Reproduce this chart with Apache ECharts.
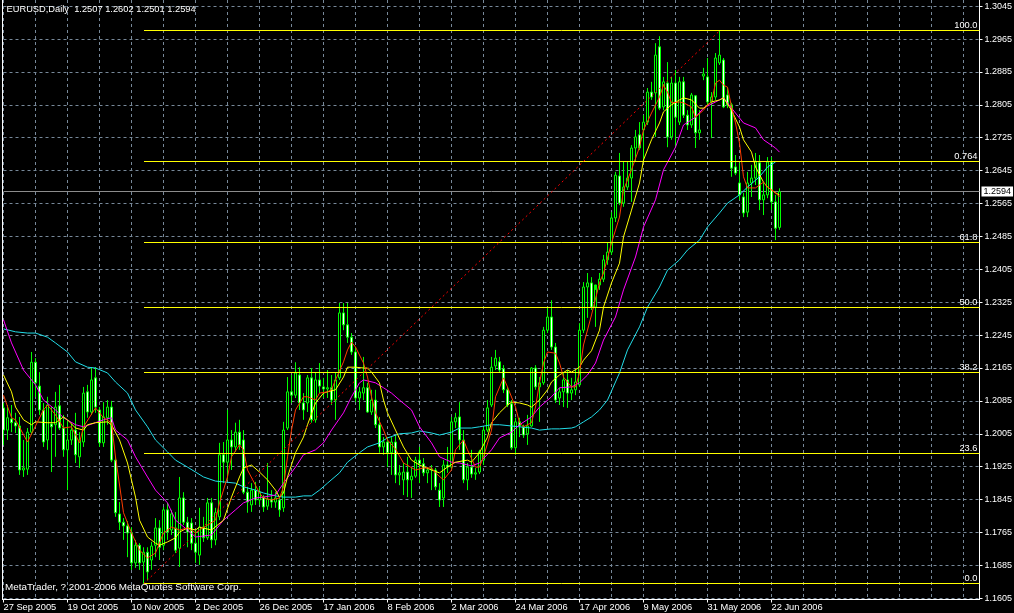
<!DOCTYPE html>
<html><head><meta charset="utf-8">
<script src="https://cdn.jsdelivr.net/npm/echarts/dist/echarts.min.js"></script>
<style>html,body{margin:0;padding:0;background:#000;overflow:hidden}#c{width:1014px;height:613px}</style>
</head><body><div id="c"></div>
<script>
const symbolName = 'EURUSD,Daily';
const dateLabels = ['27 Sep 2005','19 Oct 2005','10 Nov 2005','2 Dec 2005','26 Dec 2005','17 Jan 2006','8 Feb 2006','2 Mar 2006','24 Mar 2006','17 Apr 2006','9 May 2006','31 May 2006','22 Jun 2006'];
const yTicks = [1.1605,1.1685,1.1765,1.1845,1.1925,1.2005,1.2085,1.2165,1.2245,1.2325,1.2405,1.2485,1.2565,1.2645,1.2725,1.2805,1.2885,1.2965,1.3045];

const opens = [1.2068,1.2014,1.2041,1.2032,1.2024,1.1917,1.1919,1.2009,1.2179,1.2121,1.2063,1.1990,1.2029,1.2027,1.2073,1.2019,1.1966,1.1990,1.2014,1.1949,
1.1985,1.2107,1.2058,1.2141,1.2063,1.1983,1.2044,1.2070,1.1941,1.1810,1.1790,1.1781,1.1764,1.1691,1.1734,1.1693,1.1717,1.1698,1.1734,1.1776,
1.1734,1.1820,1.1771,1.1776,1.1727,1.1849,1.1790,1.1788,1.1739,1.1710,1.1778,1.1752,1.1837,1.1747,1.1803,1.1954,1.1936,1.1990,1.1973,1.2009,
1.1990,1.1863,1.1832,1.1868,1.1844,1.1851,1.1829,1.1846,1.1839,1.1844,1.1825,1.2019,1.2107,1.2099,1.2148,1.2080,1.2080,1.2141,1.2039,1.2136,
1.2119,1.2114,1.2117,1.2087,1.2141,1.2299,1.2270,1.2240,1.2204,1.2092,1.2104,1.2117,1.2058,1.2087,1.2027,1.1973,1.1985,1.1959,1.1985,1.1905,
1.1893,1.1912,1.1893,1.1902,1.1941,1.1932,1.1910,1.1917,1.1917,1.1868,1.1849,1.1929,1.1924,1.2034,1.2046,1.1990,1.1893,1.1924,1.1907,1.1912,
1.1941,1.2014,1.2075,1.2170,1.2180,1.2163,1.2112,1.2078,1.1971,1.2034,1.2022,1.2005,1.2024,1.2165,1.2119,1.2129,1.2257,1.2289,1.2216,1.2092,
1.2107,1.2136,1.2104,1.2112,1.2124,1.2257,1.2362,1.2372,1.2313,1.2367,1.2381,1.2428,1.2447,1.2530,1.2632,1.2566,1.2605,1.2627,1.2700,1.2732,
1.2744,1.2763,1.2836,1.2834,1.2946,1.2800,1.2858,1.2727,1.2858,1.2763,1.2861,1.2780,1.2756,1.2827,1.2737,1.2875,1.2873,1.2812,1.2824,1.2907,
1.2914,1.2829,1.2805,1.2654,1.2615,1.2581,1.2544,1.2615,1.2627,1.2664,1.2574,1.2586,1.2666,1.2569,1.2507];
const highs = [1.2080,1.2075,1.2075,1.2056,1.2046,1.1990,1.2019,1.2204,1.2189,1.2155,1.2080,1.2095,1.2070,1.2107,1.2124,1.2051,1.2039,1.2029,1.2056,1.2009,
1.2119,1.2124,1.2167,1.2167,1.2070,1.2082,1.2087,1.2085,1.1951,1.1839,1.1800,1.1793,1.1778,1.1747,1.1739,1.1729,1.1729,1.1742,1.1800,1.1795,
1.1827,1.1837,1.1820,1.1815,1.1900,1.1863,1.1803,1.1800,1.1771,1.1825,1.1803,1.1849,1.1849,1.1825,1.1983,1.1985,1.2063,1.2014,1.2032,1.2039,
1.2014,1.1876,1.1885,1.1888,1.1876,1.1856,1.1934,1.1868,1.1863,1.1851,1.2034,1.2143,1.2148,1.2179,1.2167,1.2104,1.2148,1.2165,1.2155,1.2177,
1.2141,1.2160,1.2148,1.2155,1.2323,1.2323,1.2323,1.2250,1.2216,1.2119,1.2192,1.2129,1.2112,1.2112,1.2046,1.1997,1.1997,1.1997,1.2002,1.1929,
1.1934,1.1949,1.1924,1.1949,1.1973,1.1946,1.1924,1.1929,1.1922,1.1885,1.1941,1.1973,1.2046,1.2056,1.2082,1.2014,1.1934,1.1966,1.1922,1.1966,
1.2022,1.2087,1.2192,1.2209,1.2192,1.2172,1.2119,1.2087,1.2044,1.2044,1.2027,1.2051,1.2167,1.2172,1.2143,1.2265,1.2313,1.2330,1.2226,1.2117,
1.2155,1.2160,1.2141,1.2160,1.2274,1.2374,1.2396,1.2386,1.2355,1.2396,1.2440,1.2469,1.2544,1.2642,1.2688,1.2666,1.2666,1.2707,1.2744,1.2763,
1.2780,1.2846,1.2861,1.2955,1.2972,1.2873,1.2909,1.2873,1.2890,1.2873,1.2873,1.2792,1.2834,1.2829,1.2792,1.2895,1.2919,1.2836,1.2931,1.2985,
1.2919,1.2848,1.2810,1.2683,1.2664,1.2591,1.2642,1.2659,1.2688,1.2683,1.2615,1.2678,1.2678,1.2586,1.2602];
const lows = [1.1978,1.1990,1.2009,1.2007,1.1905,1.1900,1.1905,1.2002,1.2095,1.2051,1.1973,1.1966,1.1912,1.1949,1.2014,1.1949,1.1868,1.1978,1.1934,1.1922,
1.1973,1.2044,1.2051,1.2056,1.1973,1.1973,1.2027,1.1936,1.1803,1.1771,1.1747,1.1705,1.1674,1.1679,1.1674,1.1640,1.1649,1.1674,1.1705,1.1698,
1.1722,1.1747,1.1759,1.1715,1.1681,1.1783,1.1729,1.1722,1.1691,1.1686,1.1742,1.1747,1.1727,1.1734,1.1795,1.1885,1.1893,1.1917,1.1961,1.1966,
1.1858,1.1813,1.1815,1.1832,1.1832,1.1815,1.1820,1.1825,1.1825,1.1803,1.1815,1.2014,1.2080,1.2092,1.2063,1.2039,1.2058,1.2032,1.2032,1.2104,
1.2092,1.2092,1.2075,1.2039,1.2136,1.2257,1.2226,1.2197,1.2082,1.2063,1.2087,1.2056,1.2051,1.2019,1.1959,1.1954,1.1924,1.1905,1.1885,1.1880,
1.1856,1.1851,1.1849,1.1898,1.1885,1.1902,1.1885,1.1868,1.1868,1.1827,1.1827,1.1910,1.1917,1.2019,1.1966,1.1885,1.1868,1.1898,1.1893,1.1907,
1.1929,1.2009,1.2070,1.2160,1.2153,1.2104,1.2070,1.1966,1.1954,1.1997,1.1995,1.1978,1.2022,1.2112,1.2034,1.2124,1.2250,1.2209,1.2080,1.2075,
1.2070,1.2068,1.2087,1.2099,1.2119,1.2250,1.2287,1.2306,1.2265,1.2355,1.2374,1.2416,1.2440,1.2520,1.2561,1.2557,1.2598,1.2569,1.2666,1.2695,
1.2666,1.2756,1.2817,1.2727,1.2792,1.2792,1.2702,1.2720,1.2700,1.2756,1.2773,1.2744,1.2749,1.2700,1.2720,1.2865,1.2805,1.2724,1.2817,1.2902,
1.2797,1.2797,1.2630,1.2634,1.2574,1.2532,1.2532,1.2581,1.2610,1.2549,1.2537,1.2578,1.2549,1.2476,1.2501];
const closes = [1.2014,1.2044,1.2032,1.2024,1.1917,1.1922,1.2009,1.2179,1.2129,1.2063,1.1985,1.2075,1.2022,1.2070,1.2019,1.1966,1.1990,1.2014,1.1954,1.1990,
1.2104,1.2058,1.2136,1.2070,1.1983,1.2046,1.2070,1.1941,1.1813,1.1790,1.1781,1.1764,1.1691,1.1734,1.1691,1.1717,1.1669,1.1732,1.1776,1.1729,
1.1820,1.1766,1.1810,1.1722,1.1849,1.1790,1.1766,1.1739,1.1717,1.1778,1.1752,1.1837,1.1747,1.1813,1.1954,1.1936,1.1990,1.1973,1.2009,1.1978,
1.1863,1.1839,1.1868,1.1844,1.1863,1.1827,1.1846,1.1839,1.1849,1.1820,1.2014,1.2107,1.2099,1.2153,1.2080,1.2063,1.2141,1.2039,1.2136,1.2121,
1.2114,1.2117,1.2087,1.2136,1.2299,1.2270,1.2240,1.2204,1.2092,1.2107,1.2117,1.2058,1.2087,1.2027,1.1973,1.1985,1.1959,1.1985,1.1905,1.1910,
1.1912,1.1893,1.1902,1.1941,1.1932,1.1910,1.1917,1.1919,1.1876,1.1844,1.1929,1.1924,1.2034,1.2044,1.1990,1.1893,1.1924,1.1907,1.1910,1.1961,
1.2014,1.2068,1.2167,1.2189,1.2160,1.2112,1.2075,1.1971,1.2034,1.2024,1.2002,1.2024,1.2165,1.2119,1.2129,1.2257,1.2289,1.2216,1.2087,1.2107,
1.2136,1.2104,1.2112,1.2131,1.2257,1.2362,1.2372,1.2313,1.2367,1.2381,1.2428,1.2447,1.2530,1.2634,1.2566,1.2605,1.2627,1.2700,1.2727,1.2700,
1.2763,1.2836,1.2824,1.2926,1.2797,1.2861,1.2727,1.2858,1.2775,1.2861,1.2780,1.2756,1.2829,1.2737,1.2744,1.2880,1.2812,1.2824,1.2919,1.2926,
1.2800,1.2805,1.2651,1.2639,1.2586,1.2542,1.2615,1.2627,1.2666,1.2574,1.2586,1.2666,1.2569,1.2505,1.2594];

const maRed = [[0,1.2099],[2,1.2044],[3,1.2039],[6,1.1985],[10,1.2063],[11,1.2075],[13,1.2051],[15,1.2019],[17,1.2022],[19,1.1983],[20,1.2022],[23,1.2068],[25,1.2044],[27,1.2032],[28,1.1949],[30,1.1813],[32,1.1764],[34,1.1722],[36,1.1703],[38,1.1715],[40,1.1764],[42,1.1778],[44,1.1771],[46,1.1776],[48,1.1764],[49,1.1771],[53,1.1795],[54,1.1837],[56,1.1900],[57,1.1949],[59,1.1978],[60,1.1966],[61,1.1917],[63,1.1880],[64,1.1861],[65,1.1849],[67,1.1844],[69,1.1849],[70,1.1876],[71,1.1949],[72,1.2014],[73,1.2063],[75,1.2095],[76,1.2095],[78,1.2087],[79,1.2104],[81,1.2107],[82,1.2112],[83,1.2136],[85,1.2180],[86,1.2209],[87,1.2228],[88,1.2216],[90,1.2177],[91,1.2143],[92,1.2095],[93,1.2056],[95,1.2014],[96,1.1990],[98,1.1968],[100,1.1934],[103,1.1917],[105,1.1922],[107,1.1922],[108,1.1910],[110,1.1893],[112,1.1917],[113,1.1966],[115,1.1990],[116,1.1966],[118,1.1924],[119,1.1924],[120,1.1949],[122,1.2014],[123,1.2095],[125,1.2141],[126,1.2119],[128,1.2070],[129,1.2032],[130,1.2022],[132,1.2032],[133,1.2070],[134,1.2129],[135,1.2177],[136,1.2204],[138,1.2201],[139,1.2177],[140,1.2143],[142,1.2119],[143,1.2119],[144,1.2153],[145,1.2221],[147,1.2294],[149,1.2372],[150,1.2396],[152,1.2469],[154,1.2532],[155,1.2598],[157,1.2647],[159,1.2702],[160,1.2744],[162,1.2785],[164,1.2824],[165,1.2853],[166,1.2836],[167,1.2810],[169,1.2812],[170,1.2810],[172,1.2800],[173,1.2775],[175,1.2792],[176,1.2805],[177,1.2812],[178,1.2858],[179,1.2865],[180,1.2853],[181,1.2848],[182,1.2800],[183,1.2761],[184,1.2712],[185,1.2630],[186,1.2603],[188,1.2603],[190,1.2617],[191,1.2605],[193,1.2591],[194,1.2581]];
const maYellow = [[0,1.2148],[2,1.2107],[3,1.2070],[5,1.2039],[7,1.2027],[8,1.2034],[11,1.2032],[13,1.2032],[15,1.2046],[16,1.2039],[18,1.2019],[20,1.2014],[21,1.2027],[23,1.2032],[26,1.2034],[27,1.2027],[29,1.1990],[31,1.1934],[33,1.1851],[34,1.1795],[36,1.1754],[38,1.1739],[39,1.1734],[41,1.1742],[43,1.1752],[44,1.1766],[46,1.1776],[48,1.1771],[49,1.1778],[52,1.1771],[55,1.1795],[57,1.1851],[59,1.1900],[60,1.1922],[62,1.1929],[64,1.1912],[66,1.1893],[68,1.1868],[69,1.1851],[70,1.1861],[71,1.1900],[73,1.1959],[75,1.1997],[76,1.2027],[78,1.2080],[80,1.2104],[81,1.2107],[83,1.2112],[85,1.2143],[86,1.2167],[88,1.2167],[90,1.2165],[91,1.2165],[92,1.2155],[94,1.2129],[95,1.2087],[96,1.2056],[98,1.2014],[100,1.1973],[102,1.1941],[104,1.1929],[107,1.1917],[109,1.1910],[111,1.1924],[113,1.1936],[116,1.1941],[117,1.1936],[119,1.1959],[121,1.1997],[122,1.2032],[124,1.2056],[126,1.2075],[127,1.2082],[129,1.2080],[131,1.2075],[132,1.2070],[134,1.2087],[136,1.2112],[137,1.2131],[139,1.2148],[141,1.2160],[142,1.2155],[144,1.2167],[145,1.2184],[147,1.2207],[149,1.2257],[150,1.2313],[152,1.2372],[154,1.2420],[155,1.2484],[157,1.2549],[159,1.2615],[160,1.2671],[162,1.2720],[164,1.2761],[165,1.2788],[167,1.2805],[169,1.2817],[170,1.2822],[172,1.2817],[174,1.2797],[175,1.2797],[177,1.2812],[179,1.2817],[180,1.2822],[182,1.2792],[184,1.2751],[185,1.2720],[187,1.2690],[188,1.2654],[190,1.2617],[191,1.2605],[192,1.2598],[193,1.2591],[194,1.2586]];
const maMagenta = [[0,1.2282],[2,1.2226],[5,1.2160],[8,1.2124],[10,1.2087],[13,1.2063],[15,1.2044],[18,1.2027],[20,1.2022],[23,1.2032],[25,1.2039],[27,1.2044],[28,1.2014],[31,1.1990],[33,1.1949],[36,1.1900],[38,1.1868],[41,1.1837],[43,1.1795],[46,1.1771],[48,1.1754],[52,1.1759],[55,1.1795],[58,1.1820],[60,1.1837],[63,1.1849],[65,1.1851],[68,1.1856],[70,1.1885],[73,1.1924],[75,1.1954],[78,1.1966],[80,1.1983],[82,1.2014],[85,1.2056],[87,1.2095],[89,1.2129],[90,1.2136],[93,1.2129],[95,1.2117],[97,1.2104],[99,1.2087],[102,1.2063],[104,1.2022],[107,1.1983],[109,1.1949],[112,1.1936],[114,1.1934],[117,1.1927],[119,1.1934],[122,1.1966],[124,1.1995],[127,1.2009],[129,1.2027],[132,1.2046],[134,1.2070],[137,1.2095],[139,1.2117],[142,1.2119],[144,1.2129],[146,1.2148],[148,1.2177],[150,1.2233],[153,1.2289],[155,1.2355],[158,1.2435],[160,1.2508],[163,1.2574],[165,1.2647],[168,1.2702],[170,1.2756],[173,1.2775],[175,1.2797],[178,1.2812],[180,1.2822],[183,1.2785],[185,1.2761],[188,1.2749],[190,1.2720],[193,1.2700],[194,1.2690]];
const maCyan = [[0,1.2260],[3,1.2253],[6,1.2250],[8,1.2250],[11,1.2240],[13,1.2226],[16,1.2204],[18,1.2180],[21,1.2167],[23,1.2165],[26,1.2153],[28,1.2131],[31,1.2104],[33,1.2063],[36,1.2022],[38,1.1990],[41,1.1961],[43,1.1941],[46,1.1924],[48,1.1912],[50,1.1900],[53,1.1890],[55,1.1888],[58,1.1885],[60,1.1876],[63,1.1868],[65,1.1861],[68,1.1854],[70,1.1851],[73,1.1851],[75,1.1854],[77,1.1854],[79,1.1868],[81,1.1885],[84,1.1910],[86,1.1936],[89,1.1959],[91,1.1973],[94,1.1983],[96,1.1995],[99,1.2005],[102,1.2007],[104,1.2012],[107,1.2007],[109,1.2002],[112,1.2009],[114,1.2019],[117,1.2019],[119,1.2022],[122,1.2027],[124,1.2027],[127,1.2024],[129,1.2022],[132,1.2019],[134,1.2014],[137,1.2017],[139,1.2017],[142,1.2019],[143,1.2022],[145,1.2034],[147,1.2046],[149,1.2063],[151,1.2087],[154,1.2153],[156,1.2209],[159,1.2265],[161,1.2313],[164,1.2362],[166,1.2403],[169,1.2428],[171,1.2452],[174,1.2476],[176,1.2508],[179,1.2542],[181,1.2566],[184,1.2586],[186,1.2605],[189,1.2630],[191,1.2654],[193,1.2666]];

const fibLevels = [{name:'0.0',value:1.1640},{name:'23.6',value:1.1957},{name:'38.2',value:1.2154},{name:'50.0',value:1.2313},{name:'61.8',value:1.2471},{name:'0.764',value:1.2668},{name:'100.0',value:1.2985}];
const fibStartBar = 35;
const trendLine = [[35,1.1640],[179,1.2985]];
const lastPrice = 1.2594;
const totalSlots = 245;

const FONT = 'Liberation Sans';
const FS = 9.3;
const cats = [];
for (let i = 0; i < totalSlots; i++) cats.push('b' + i);
const candleData = opens.map((o, i) => [o, closes[i], lows[i], highs[i]]);
const n = opens.length - 1;
const titleText = symbolName + '  ' + [opens[n], highs[n], lows[n], closes[n]].map(v => v.toFixed(4)).join(' ');

const chart = echarts.init(document.getElementById('c'), null, {renderer: 'canvas'});
const lineS = (data, color) => ({type:'line', data, showSymbol:false, symbol:'none', silent:true, z:4,
  lineStyle:{color, width:1}, itemStyle:{color}});
const labelInterval = (i) => i % 16 === 0 && (i / 16) < dateLabels.length;
const snap = (y) => Math.floor(y) + 0.5;

chart.setOption({
  backgroundColor: '#000',
  animation: false,
  grid: {left: 3.5, top: 0, width: 976, height: 599.5, outerBoundsMode: 'none', containLabel: false},
  xAxis: {
    type: 'category', data: cats, boundaryGap: false,
    axisLine: {show: true, lineStyle: {color: '#fff', width: 1}},
    axisTick: {show: true, interval: labelInterval, length: 3, lineStyle: {color: '#fff'}},
    axisLabel: {interval: labelInterval, formatter: (v, i) => dateLabels[i / 16] || '', color: '#fff',
      fontFamily: FONT, fontSize: FS, align: 'left', margin: 3, hideOverlap: false},
    splitLine: {show: true, interval: (i) => i % 8 === 0, lineStyle: {color: '#778899', type: [3, 3], width: 1}}
  },
  yAxis: {
    type: 'value', position: 'right', min: 1.1602, max: 1.3060,
    axisLine: {show: true, lineStyle: {color: '#fff', width: 1}},
    axisTick: {show: true, length: 3, customValues: yTicks, lineStyle: {color: '#fff'}},
    axisLabel: {customValues: yTicks, formatter: v => v.toFixed(4), color: '#fff', fontFamily: FONT, fontSize: 9, margin: 5},
    splitLine: {show: true, lineStyle: {color: '#778899', type: [3, 3], width: 1}}
  },
  series: [
    {type:'custom', silent:true, z:1, clip:false, data:[[0, lastPrice]],
      renderItem: (params, api) => {
        const cs = params.coordSys;
        const y = snap(api.coord([0, api.value(1)])[1]);
        return {type:'group', children:[
          {type:'line', shape:{x1:cs.x, y1:y, x2:cs.x + cs.width, y2:y}, style:{stroke:'#8c8c8c', lineWidth:1}},
          {type:'text', x: cs.x + cs.width + 2, y: y, style:{text: lastPrice.toFixed(4), fill:'#000', backgroundColor:'#fff',
            padding:[1,2,0,2], font: '9px ' + FONT, textAlign:'left', textVerticalAlign:'middle'}}
        ]};
      }},
    {type:'candlestick', data:candleData, barWidth:2, z:2, silent:true,
      itemStyle:{color:'#000', color0:'#fff', borderColor:'#00ff00', borderColor0:'#00ff00', borderWidth:1}},
    lineS(maCyan, '#22dde8'),
    lineS(maMagenta, '#ff00ff'),
    lineS(maYellow, '#ffff00'),
    lineS(maRed, '#ff3c00'),
    {type:'line', data:trendLine, showSymbol:false, symbol:'none', silent:true, z:5,
      lineStyle:{color:'#ff0000', width:1, type:[2,3]}},
    {type:'custom', silent:true, z:5, clip:false, data: fibLevels.map(f => [fibStartBar, f.value]),
      renderItem: (params, api) => {
        const cs = params.coordSys;
        const p = api.coord([api.value(0), api.value(1)]);
        const y = snap(p[1]);
        const xr = cs.x + cs.width;
        return {type:'group', children:[
          {type:'line', shape:{x1:Math.round(p[0]), y1:y, x2:xr, y2:y}, style:{stroke:'#ffff00', lineWidth:1}},
          {type:'text', x: xr - 2, y: y - 1, style:{text: fibLevels[params.dataIndex].name, fill:'#fff',
            font: FS + 'px ' + FONT, textAlign:'right', textVerticalAlign:'bottom'}}
        ]};
      }}
  ],
  graphic: [
    {type:'line', silent:true, shape:{x1:2.5, y1:0, x2:2.5, y2:600}, style:{stroke:'#fff', lineWidth:1}, z:10},
    {type:'text', silent:true, left:6.5, top:5, style:{text:titleText, fill:'#fff', font: FS + 'px ' + FONT}, z:10},
    {type:'text', silent:true, left:5, top:582, style:{text:'MetaTrader, ? 2001-2006 MetaQuotes Software Corp.', fill:'#fff', font: '9.9px ' + FONT}, z:10}
  ]
});
</script>
</body></html>
